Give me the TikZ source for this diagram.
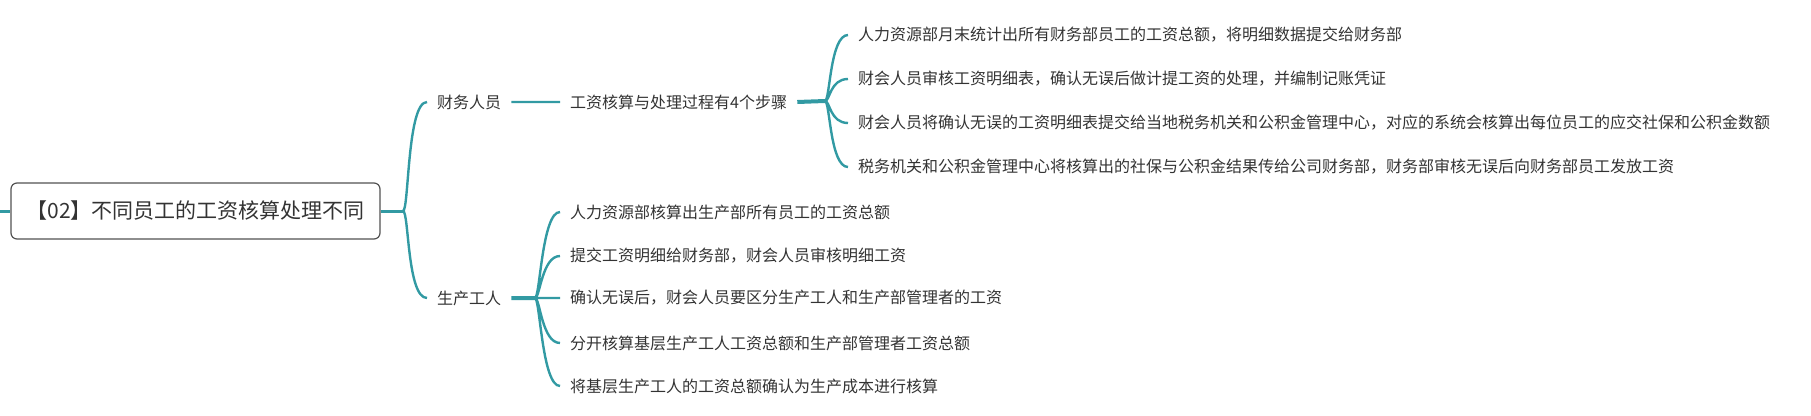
\documentclass[tikz,border=0pt]{standalone}
\usepackage{fontspec}
\setmainfont{Noto Sans CJK SC}
\usepackage{xcolor}
\usetikzlibrary{
    calc,
    positioning
}
\definecolor{branchteal}{RGB}{50,154,163}
\definecolor{topicgray}{RGB}{51,51,51}
\tikzset{
    topic/.style={anchor=west, inner xsep=10pt, inner ysep=2pt, text=topicgray, font=\fontsize{16}{18}\selectfont},
    roottopic/.style={draw=black!68, line width=1.2pt, rounded corners=6pt, minimum width=369pt, minimum height=56pt, inner sep=0pt, text=topicgray, font=\fontsize{21}{24}\selectfont},
    link/.style={draw=branchteal, line width=2.4pt},
    trunk/.style={draw=branchteal, line width=4pt}
}

\begin{document}
\begin{tikzpicture}[x=1pt, y=-1pt]
                        \useasboundingbox (0, 0) rectangle (1811, 415);
                        % root and its two branches
                        \coordinate (offleft) at (0, 211);
                        \node[roottopic] (root) at (195.5, 211) {【02】不同员工的工资核算处理不同};
                        \coordinate (rootfork) at (403, 211);
                        \node[topic] (caiwu) at (427, 102) {财务人员};
                        \node[topic] (shengchan) at (427, 298) {生产工人};
                        % finance staff
                        \node[topic] (buzhou) at (560, 102) {工资核算与处理过程有4个步骤};
                        \coordinate (buzhoufork) at (825, 101);
                        \node[topic] (cw1) at (848, 35) {人力资源部月末统计出所有财务部员工的工资总额，将明细数据提交给财务部};
                        \node[topic] (cw2) at (848, 79) {财会人员审核工资明细表，确认无误后做计提工资的处理，并编制记账凭证};
                        \node[topic] (cw3) at (848, 123) {财会人员将确认无误的工资明细表提交给当地税务机关和公积金管理中心，对应的系统会核算出每位员工的应交社保和公积金数额};
                        \node[topic] (cw4) at (848, 167) {税务机关和公积金管理中心将核算出的社保与公积金结果传给公司财务部，财务部审核无误后向财务部员工发放工资};
                        % production workers
                        \coordinate (shengchanfork) at (535, 298);
                        \node[topic] (sc1) at (560, 212) {人力资源部核算出生产部所有员工的工资总额};
                        \node[topic] (sc2) at (560, 256) {提交工资明细给财务部，财会人员审核明细工资};
                        \node[topic] (sc3) at (560, 298) {确认无误后，财会人员要区分生产工人和生产部管理者的工资};
                        \node[topic] (sc4) at (560, 343) {分开核算基层生产工人工资总额和生产部管理者工资总额};
                        \node[topic] (sc5) at (560, 386) {将基层生产工人的工资总额确认为生产成本进行核算};
                        \draw[link, line width=3pt]
                        (offleft) -- (root.west)
                        (root.east) -- (rootfork);
                        \draw[trunk]
                        (buzhou.east) -- (buzhoufork)
                        (shengchan.east) -- (shengchanfork);
                        \draw[link]
                        (caiwu.east) -- (buzhou.west)
                        (rootfork) .. controls +(6, 0) and +(-20, 0) .. (caiwu.west)
                        (rootfork) .. controls +(6, 0) and +(-20, 0) .. (shengchan.west)
                        (buzhoufork) .. controls +(5, 0) and +(-18, 0) .. (cw1.west)
                        (buzhoufork) .. controls +(5, 0) and +(-18, 0) .. (cw2.west)
                        (buzhoufork) .. controls +(5, 0) and +(-18, 0) .. (cw3.west)
                        (buzhoufork) .. controls +(5, 0) and +(-18, 0) .. (cw4.west)
                        (shengchanfork) .. controls +(5, 0) and +(-18, 0) .. (sc1.west)
                        (shengchanfork) .. controls +(5, 0) and +(-18, 0) .. (sc2.west)
                        (shengchanfork) -- (sc3.west)
                        (shengchanfork) .. controls +(5, 0) and +(-18, 0) .. (sc4.west)
                        (shengchanfork) .. controls +(5, 0) and +(-18, 0) .. (sc5.west);
                    \end{tikzpicture}
\end{document}
